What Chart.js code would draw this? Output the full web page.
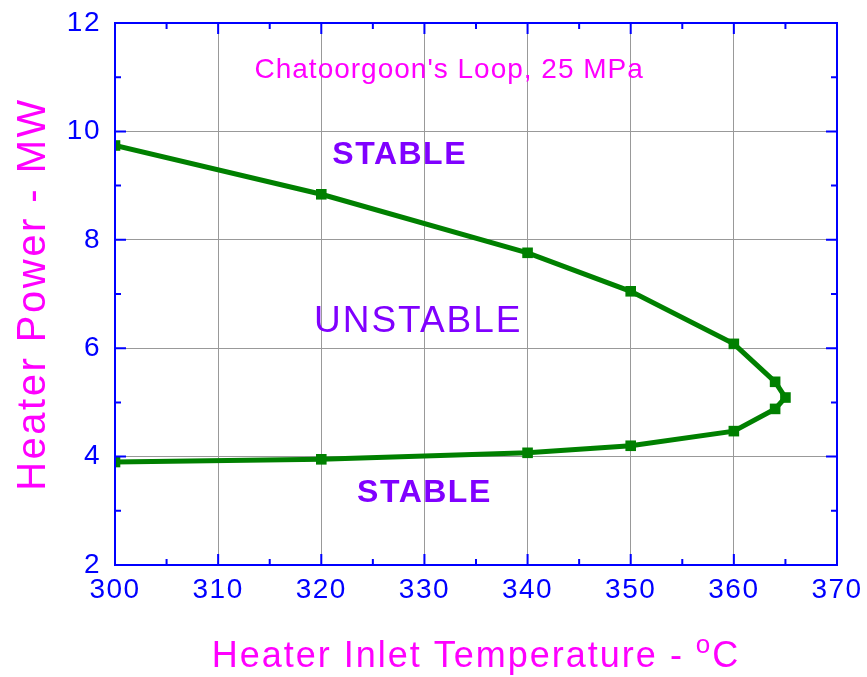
<!doctype html>
<html lang="en">
<head>
<meta charset="utf-8">
<title>Chatoorgoon's Loop stability map</title>
<script src="https://cdn.jsdelivr.net/npm/chart.js"></script>
<style>
  html, body { margin: 0; padding: 0; background: #fff; }
  #wrap { width: 867px; height: 677px; }
</style>
</head>
<body>
<div id="wrap"><canvas id="stabilityChart" width="867" height="677"></canvas></div>
<script>
// stability boundary, traced from the upper branch round the nose to the lower branch
const inletTemp  = [300, 320, 340, 350, 360, 364, 365, 364, 360, 350, 340, 320, 300];
const heaterPower = [9.74, 8.84, 7.76, 7.05, 6.08, 5.38, 5.09, 4.88, 4.47, 4.2, 4.07, 3.95, 3.9];

const xTicks = [300, 310, 320, 330, 340, 350, 360, 370];
const yTicks = [2, 4, 6, 8, 10, 12];

const regionLabels = [
  { text: "STABLE",   x: 327.6, y: 9.56, bold: true,  size: 32, spacing: 1.5 },
  { text: "UNSTABLE", x: 329.4, y: 6.48, bold: false, size: 37, spacing: 2 },
  { text: "STABLE",   x: 330,   y: 3.33, bold: true,  size: 32, spacing: 1.5 }
];

const BLUE = '#0000ff';
const PINK = '#ff00ff';
const PURPLE = '#8000ff';
const GREEN = '#008000';
const FONT = 'Arial, "Liberation Sans", sans-serif';

const points = inletTemp.map((t, i) => ({ x: t, y: heaterPower[i] }));

// letter spacing for the tick labels
const spacing = {
  id: 'spacing',
  beforeDraw(chart) { chart.ctx.letterSpacing = '1.5px'; }
};

// frame, inward ticks, titles and region notes
const decorations = {
  id: 'decorations',
  afterDraw(chart) {
    const { ctx, chartArea: a, scales } = chart;
    const xs = scales.x, ys = scales.y;
    ctx.save();

    // box round the plot
    ctx.strokeStyle = BLUE;
    ctx.lineWidth = 2;
    ctx.strokeRect(a.left, a.top, a.right - a.left, a.bottom - a.top);

    // inward ticks, major every 10 / 2, minor halfway
    ctx.beginPath();
    for (let v = 300; v <= 370; v += 5) {
      const px = xs.getPixelForValue(v);
      const len = v % 10 === 0 ? 11 : 6;
      ctx.moveTo(px, a.bottom); ctx.lineTo(px, a.bottom - len);
      ctx.moveTo(px, a.top);    ctx.lineTo(px, a.top + len);
    }
    for (let v = 2; v <= 12; v += 1) {
      const py = ys.getPixelForValue(v);
      const len = v % 2 === 0 ? 11 : 6;
      ctx.moveTo(a.left, py);  ctx.lineTo(a.left + len, py);
      ctx.moveTo(a.right, py); ctx.lineTo(a.right - len, py);
    }
    ctx.stroke();

    // caption inside the plot
    ctx.fillStyle = PINK;
    ctx.font = '28px ' + FONT;
    ctx.letterSpacing = '1px';
    ctx.textAlign = 'center';
    ctx.textBaseline = 'middle';
    ctx.fillText("Chatoorgoon's Loop, 25 MPa", xs.getPixelForValue(332.4), ys.getPixelForValue(11.13));

    // stable / unstable regions
    ctx.fillStyle = PURPLE;
    regionLabels.forEach(l => {
      ctx.font = (l.bold ? 'bold ' : '') + l.size + 'px ' + FONT;
      ctx.letterSpacing = l.spacing + 'px';
      ctx.fillText(l.text, xs.getPixelForValue(l.x), ys.getPixelForValue(l.y));
    });

    // x title with superscript o
    ctx.letterSpacing = '2px';
    const cx = (a.left + a.right) / 2;
    const main = 'Heater Inlet Temperature - ';
    ctx.font = '36px ' + FONT;
    const wMain = ctx.measureText(main).width;
    const wC = ctx.measureText('C').width;
    ctx.font = '26px ' + FONT;
    const wO = ctx.measureText('o').width;
    const x0 = cx - (wMain + wO + wC) / 2;
    const base = 667;
    ctx.fillStyle = PINK;
    ctx.textAlign = 'left';
    ctx.textBaseline = 'alphabetic';
    ctx.font = '36px ' + FONT;
    ctx.fillText(main, x0, base);
    ctx.font = '26px ' + FONT;
    ctx.fillText('o', x0 + wMain, base - 14);
    ctx.font = '36px ' + FONT;
    ctx.fillText('C', x0 + wMain + wO, base);

    // y title
    ctx.letterSpacing = '2.5px';
    ctx.font = '40px ' + FONT;
    ctx.translate(45, (a.top + a.bottom) / 2);
    ctx.rotate(-Math.PI / 2);
    ctx.textAlign = 'center';
    ctx.fillText('Heater Power - MW', 0, 0);
    ctx.restore();
  }
};

new Chart(document.getElementById('stabilityChart'), {
  type: 'scatter',
  data: {
    datasets: [{
      data: points,
      showLine: true,
      borderColor: GREEN,
      backgroundColor: GREEN,
      borderWidth: 5,
      pointStyle: 'rect',
      pointRadius: 7.5,
      pointHoverRadius: 7.5,
      pointBorderWidth: 0,
      tension: 0
    }]
  },
  options: {
    responsive: false,
    animation: false,
    layout: { padding: { top: 23, right: 30, left: 0, bottom: 0 } },
    plugins: { legend: { display: false }, tooltip: { enabled: false } },
    scales: {
      x: {
        type: 'linear',
        min: 300, max: 370,
        afterFit: s => { s.height = 112; s.paddingLeft = 0; s.paddingRight = 0; },
        afterBuildTicks: s => { s.ticks = xTicks.map(v => ({ value: v })); },
        grid: {
          color: ctx => (ctx.tick && (ctx.tick.value === 300 || ctx.tick.value === 370)) ? 'rgba(0,0,0,0)' : '#999',
          lineWidth: 1,
          drawTicks: false
        },
        border: { display: false },
        ticks: { color: BLUE, font: { size: 28, family: FONT }, padding: 8, maxRotation: 0 }
      },
      y: {
        type: 'linear',
        min: 2, max: 12,
        afterFit: s => { s.width = 115; s.paddingTop = 0; s.paddingBottom = 0; },
        afterBuildTicks: s => { s.ticks = yTicks.map(v => ({ value: v })); },
        grid: {
          color: ctx => (ctx.tick && (ctx.tick.value === 2 || ctx.tick.value === 12)) ? 'rgba(0,0,0,0)' : '#999',
          lineWidth: 1,
          drawTicks: false
        },
        border: { display: false },
        ticks: { color: BLUE, font: { size: 28, family: FONT }, padding: 14 }
      }
    }
  },
  plugins: [spacing, decorations]
});
</script>
</body>
</html>
